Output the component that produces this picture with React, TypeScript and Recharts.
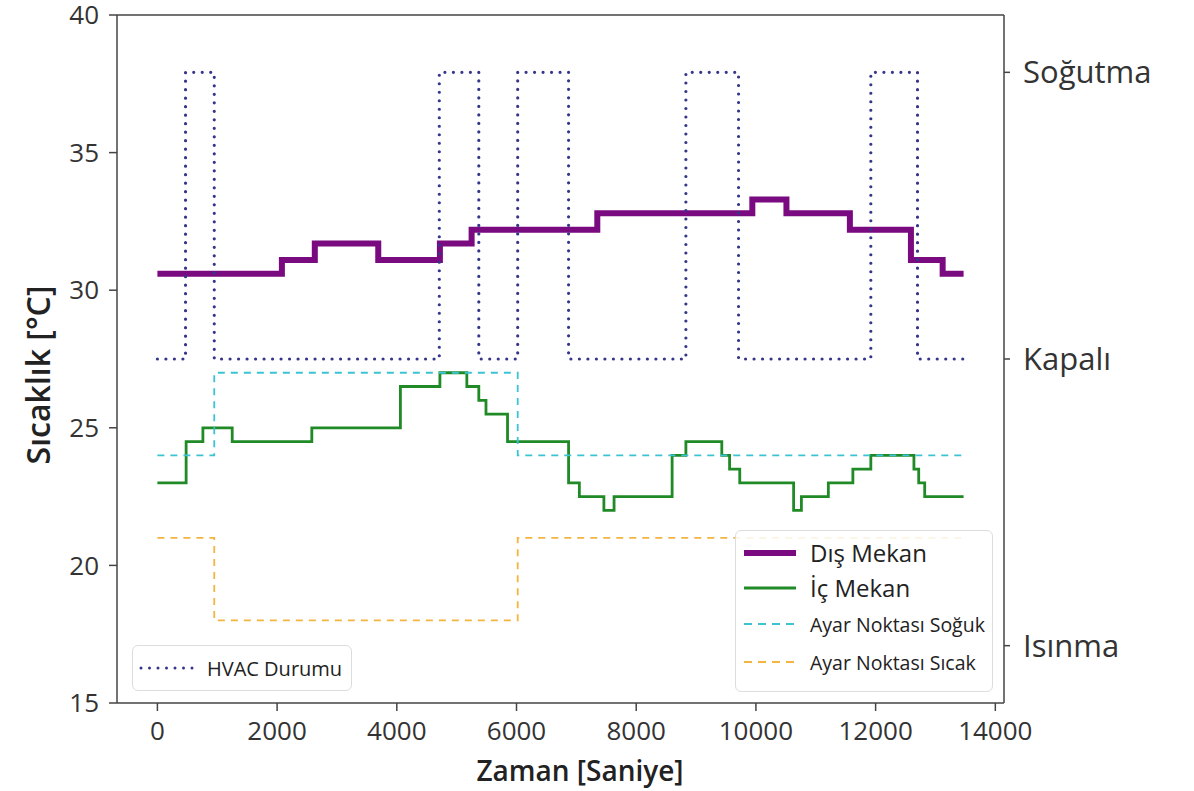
import React from "react";
import { LineChart, Line, XAxis, YAxis, ReferenceLine } from "recharts";

// zaman ekseni [s] ve sıcaklık değerleri [°C]
const outdoorTime = [0, 2080, 2630, 3690, 4720, 5250, 7350, 9940, 10510, 11570, 12590, 13120, 13470];
const outdoorTemp = [30.6, 31.1, 31.7, 31.1, 31.7, 32.2, 32.8, 33.3, 32.8, 32.2, 31.1, 30.6, 30.6];

const indoorTime = [
  0, 480, 760, 1250, 2580, 4060, 4720, 5170, 5370, 5490, 5850, 6870, 7050, 7460, 7630,
  8600, 8830, 9430, 9560, 9730, 10630, 10760, 11210, 11620, 11920, 12640, 12720, 12820, 13470,
];
const indoorTemp = [
  23.0, 24.5, 25.0, 24.5, 25.0, 26.5, 27.0, 26.5, 26.0, 25.5, 24.5, 23.0, 22.5, 22.0, 22.5,
  24.0, 24.5, 24.0, 23.5, 23.0, 22.0, 22.5, 23.0, 23.5, 24.0, 23.5, 23.0, 22.5, 22.5,
];

const setpointTime = [0, 950, 6020, 13470];
const coolSetpoint = [24, 27, 24, 24];
const heatSetpoint = [21, 18, 21, 21];

// 1 = Soğutma, 0 = Kapalı, -1 = Isınma
const hvacTime = [0, 470, 950, 4710, 5370, 6020, 6870, 8830, 9710, 11920, 12700, 13470];
const hvacState = [0, 1, 0, 1, 0, 1, 0, 1, 0, 1, 0, 0];

const xTicks = [0, 2000, 4000, 6000, 8000, 10000, 12000, 14000];
const tempTicks = [15, 20, 25, 30, 35, 40];
const hvacTicks = [-1, 0, 1];
const hvacLabels: Record<string, string> = { "-1": "Isınma", "0": "Kapalı", "1": "Soğutma" };

const zip = (ts: number[], vs: number[]) => ts.map((t, i) => ({ t, v: vs[i] }));

const outdoorData = zip(outdoorTime, outdoorTemp);
const indoorData = zip(indoorTime, indoorTemp);
const coolData = zip(setpointTime, coolSetpoint);
const heatData = zip(setpointTime, heatSetpoint);
const hvacData = zip(hvacTime, hvacState);

const FONT = "'Open Sans', 'DejaVu Sans', sans-serif";
const AXIS = "#444";
const TEXT = "#333";

const C_OUT = "#7a0a80";
const C_IN = "#1f8a26";
const C_COOL = "#3cc3d3";
const C_HEAT = "#f4b440";
const C_HVAC = "#35358c";

const W = 1194;
const H = 791;

function Sample({ color, width, dash, cap }: { color: string; width: number; dash?: string; cap?: "round" | "butt" }) {
  return (
    <svg width={56} height={12} style={{ marginRight: 12, flex: "none" }}>
      <line x1={2} y1={6} x2={54} y2={6} stroke={color} strokeWidth={width} strokeDasharray={dash} strokeLinecap={cap || "butt"} />
    </svg>
  );
}

export default function App() {
  return (
    // pinned to the page corner so chart coords equal page coords
    <div style={{ position: "absolute", left: 0, top: 0, width: W, height: H, fontFamily: FONT }}>
      <LineChart width={W} height={H} margin={{ top: 15, right: 40, left: 0, bottom: 0 }}>
        <XAxis
          dataKey="t"
          type="number"
          domain={[-675, 14145]}
          allowDataOverflow
          ticks={xTicks}
          stroke={AXIS}
          strokeWidth={1.5}
          tickSize={8}
          tickMargin={11}
          height={88}
          tick={{ fill: TEXT, fontSize: 26, fontFamily: FONT }}
          label={{
            content: () => (
              <text x={580} y={770} textAnchor="middle" dominantBaseline="central" fill="#222" fontSize={28} fontWeight={600} fontFamily={FONT}>
                Zaman [Saniye]
              </text>
            ),
          }}
        />
        <YAxis
          yAxisId="temp"
          type="number"
          domain={[15, 40]}
          ticks={tempTicks}
          allowDataOverflow
          width={117}
          stroke={AXIS}
          strokeWidth={1.5}
          tickSize={8}
          tickMargin={10}
          tick={{ fill: TEXT, fontSize: 26, fontFamily: FONT }}
          label={{
            content: () => (
              <text x={37} y={375} transform="rotate(-90 37 375)" textAnchor="middle" dominantBaseline="central" fill="#222" fontSize={32} fontWeight={600} fontFamily={FONT}>
                Sıcaklık [°C]
              </text>
            ),
          }}
        />
        <YAxis
          yAxisId="hvac"
          orientation="right"
          type="number"
          domain={[-1.2, 1.2]}
          ticks={hvacTicks}
          allowDataOverflow
          width={150}
          stroke={AXIS}
          strokeWidth={1.5}
          tickSize={6}
          tickMargin={13}
          tickFormatter={(v: number) => hvacLabels[String(v)]}
          tick={{ fill: TEXT, fontSize: 31, fontFamily: FONT }}
        />
        <ReferenceLine yAxisId="temp" y={40} stroke={AXIS} strokeWidth={1.5} />

        <Line yAxisId="temp" data={outdoorData} dataKey="v" type="stepAfter" stroke={C_OUT} strokeWidth={6} dot={false} isAnimationActive={false} />
        <Line yAxisId="temp" data={indoorData} dataKey="v" type="stepAfter" stroke={C_IN} strokeWidth={2.8} dot={false} isAnimationActive={false} />
        <Line yAxisId="temp" data={coolData} dataKey="v" type="stepAfter" stroke={C_COOL} strokeWidth={1.8} strokeDasharray="7 6" dot={false} isAnimationActive={false} />
        <Line yAxisId="temp" data={heatData} dataKey="v" type="stepAfter" stroke={C_HEAT} strokeWidth={1.8} strokeDasharray="7 6" dot={false} isAnimationActive={false} />
        <Line yAxisId="hvac" data={hvacData} dataKey="v" type="stepAfter" stroke={C_HVAC} strokeWidth={3.2} strokeDasharray="0 8.5" strokeLinecap="round" dot={false} isAnimationActive={false} />
      </LineChart>

      {/* sağ alttaki açıklama kutusu */}
      <div
        style={{
          position: "absolute",
          left: 735,
          top: 530,
          width: 258,
          height: 162,
          boxSizing: "border-box",
          border: "1.5px solid #ddd",
          borderRadius: 6,
          background: "rgba(255,255,255,0.85)",
          color: "#222",
          padding: "4px 0 0 6px",
        }}
      >
        <div style={{ display: "flex", alignItems: "center", height: 35, fontSize: 24 }}>
          <Sample color={C_OUT} width={6} />
          Dış Mekan
        </div>
        <div style={{ display: "flex", alignItems: "center", height: 35, fontSize: 24 }}>
          <Sample color={C_IN} width={3} />
          İç Mekan
        </div>
        <div style={{ display: "flex", alignItems: "center", height: 38, fontSize: 19.5 }}>
          <Sample color={C_COOL} width={2} dash="8 6" />
          Ayar Noktası Soğuk
        </div>
        <div style={{ display: "flex", alignItems: "center", height: 38, fontSize: 19.5 }}>
          <Sample color={C_HEAT} width={2} dash="8 6" />
          Ayar Noktası Sıcak
        </div>
      </div>

      {/* sol alttaki HVAC açıklaması */}
      <div
        style={{
          position: "absolute",
          left: 132,
          top: 645,
          width: 220,
          height: 46,
          boxSizing: "border-box",
          border: "1.5px solid #ddd",
          borderRadius: 6,
          background: "rgba(255,255,255,0.85)",
          color: "#222",
          display: "flex",
          alignItems: "center",
          paddingLeft: 6,
          fontSize: 20,
        }}
      >
        <Sample color={C_HVAC} width={3} dash="0 8.5" cap="round" />
        HVAC Durumu
      </div>
    </div>
  );
}
